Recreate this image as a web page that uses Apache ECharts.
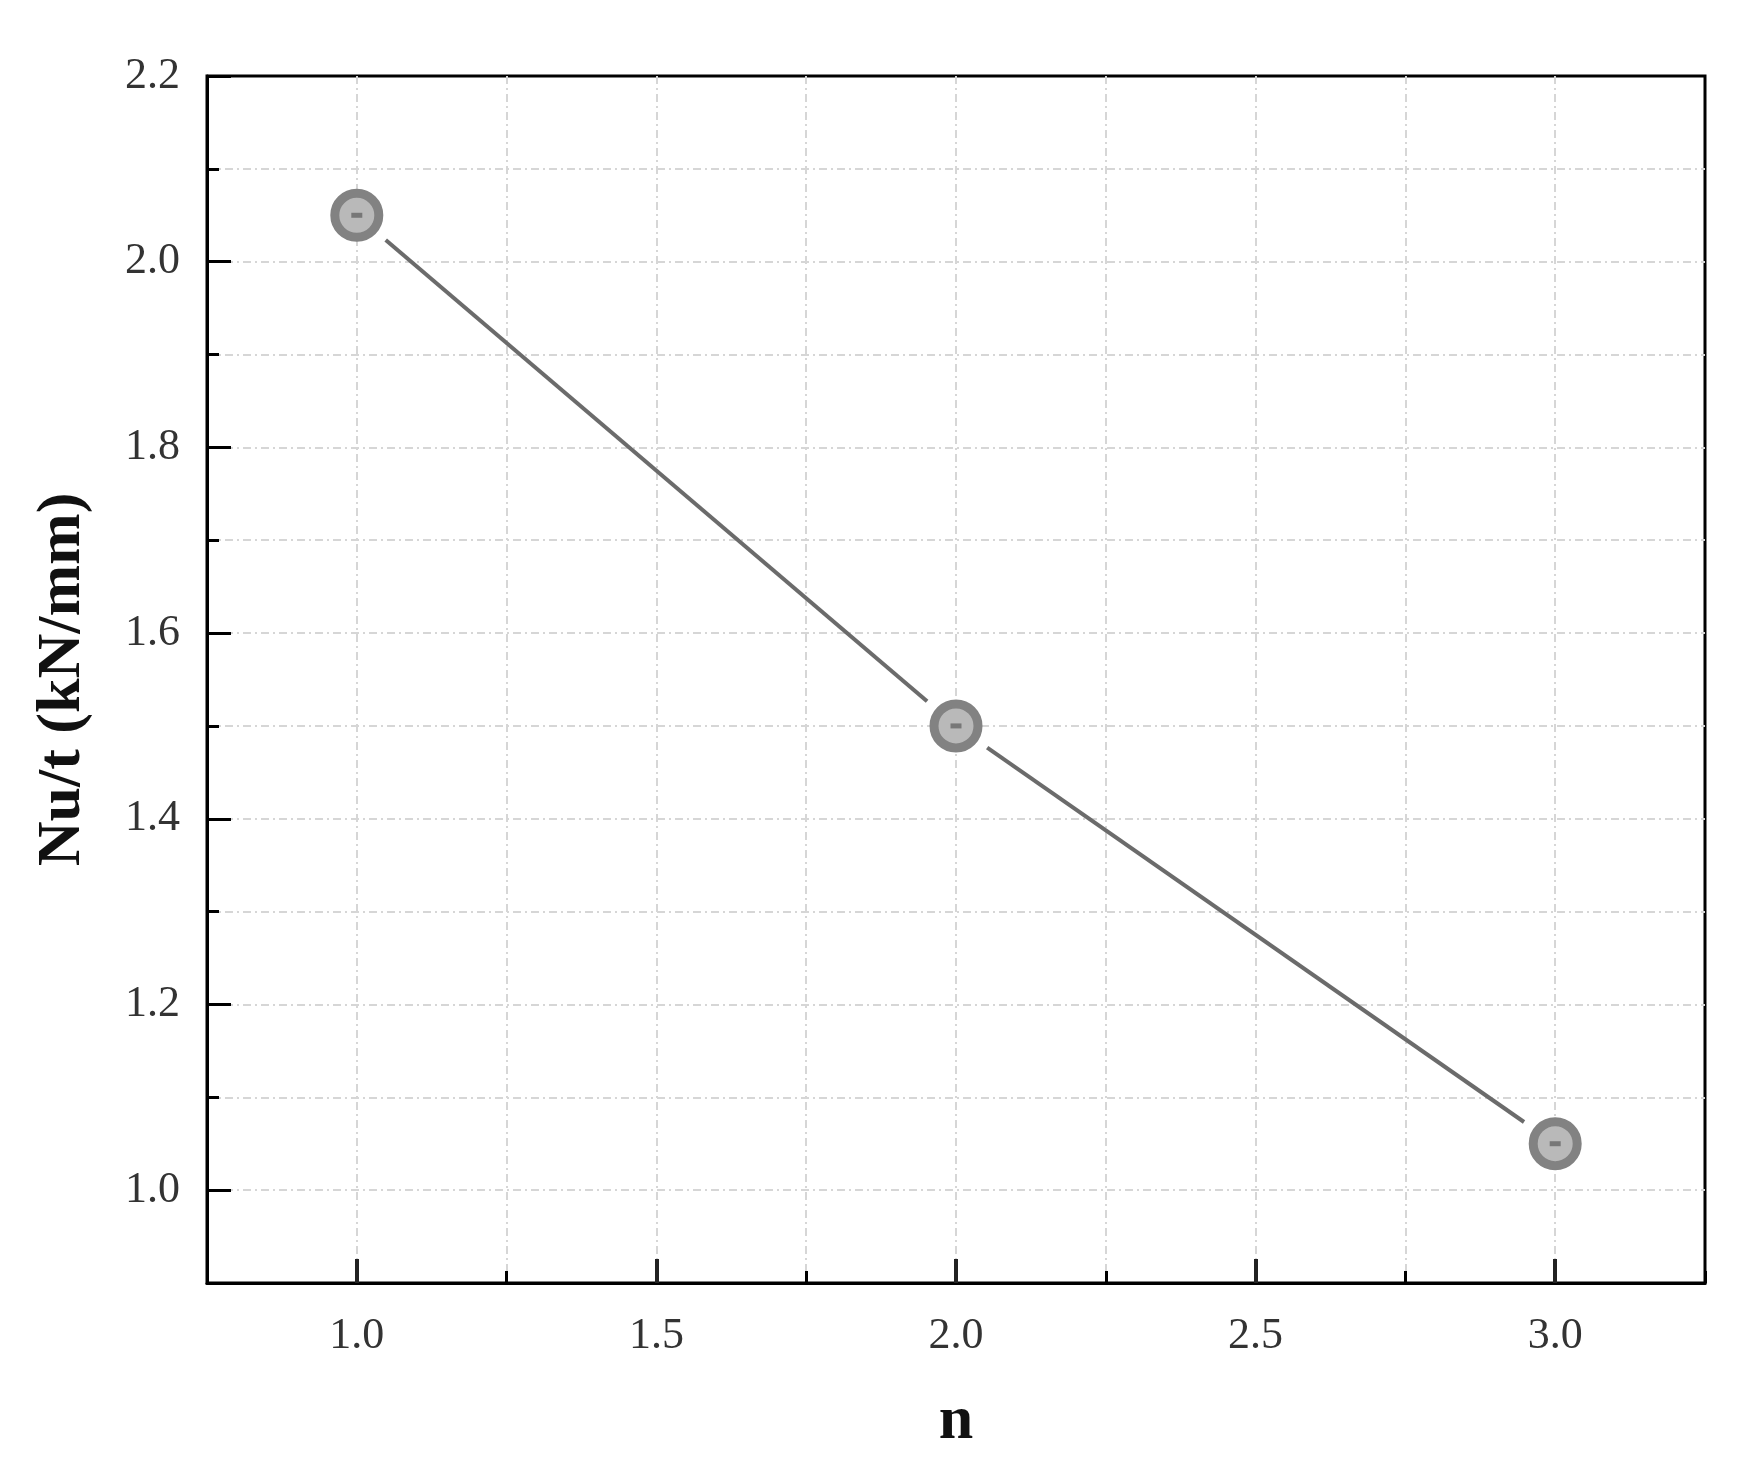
<!DOCTYPE html>
<html>
<head>
<meta charset="utf-8">
<script src="https://cdn.jsdelivr.net/npm/echarts@6/dist/echarts.min.js"></script>
<style>
  html, body { margin: 0; padding: 0; background: #ffffff; }
  #chart { width: 1750px; height: 1460px; }
</style>
</head>
<body>
<div id="chart"></div>
<script>
// data
var nValues = [1.0, 2.0, 3.0];
var nuT = [2.05, 1.50, 1.05];
var xTickLabels = [1.0, 1.5, 2.0, 2.5, 3.0];
var yTickLabels = [1.0, 1.2, 1.4, 1.6, 1.8, 2.0, 2.2];

var points = nValues.map(function (x, i) { return [x, nuT[i]]; });

var labelFont = {
  fontFamily: 'Liberation Serif',
  fontSize: 44,
  color: '#333333'
};
var nameFont = {
  fontFamily: 'Liberation Serif',
  fontWeight: 'bold',
  fontSize: 62,
  color: '#111111'
};
var gridLine = {
  show: true, showMinLine: false, showMaxLine: false,
  lineStyle: { color: '#d6d6d6', width: 2, type: [8, 4, 2, 4] }
};

function isIn(list, v) {
  return list.some(function (t) { return Math.abs(t - v) < 1e-6; });
}

var chart = echarts.init(document.getElementById('chart'));
chart.setOption({
  backgroundColor: '#ffffff',
  animation: false,
  grid: {
    left: 207, right: 45, top: 76, bottom: 177,
    show: true, borderColor: '#000000', borderWidth: 3
  },
  xAxis: [{
    type: 'value', min: 0.75, max: 3.25, interval: 0.25,
    name: 'n', nameLocation: 'middle', nameGap: 108, nameTextStyle: nameFont,
    axisLine: { show: true, lineStyle: { color: '#000', width: 3 } },
    axisTick: { show: true, inside: true, length: 12, lineStyle: { color: '#000', width: 3 } },
    axisLabel: Object.assign({
      margin: 31,
      formatter: function (v) { return isIn(xTickLabels, v) ? v.toFixed(1) : ''; }
    }, labelFont),
    splitLine: gridLine
  }, {
    // long ticks at the labelled values
    type: 'value', min: 0.75, max: 3.25, position: 'bottom',
    axisLine: { show: false },
    axisTick: { show: true, inside: true, length: 24, customValues: xTickLabels, lineStyle: { color: '#222', width: 4 } },
    axisLabel: { show: false },
    splitLine: { show: false }
  }],
  yAxis: [{
    type: 'value', min: 0.9, max: 2.2, interval: 0.1,
    name: 'Nu/t (kN/mm)', nameLocation: 'middle', nameGap: 113, nameTextStyle: nameFont,
    axisLine: { show: true, lineStyle: { color: '#000', width: 3 } },
    axisTick: { show: true, inside: true, length: 12, lineStyle: { color: '#000', width: 3 } },
    axisLabel: Object.assign({
      margin: 27,
      formatter: function (v) { return isIn(yTickLabels, v) ? v.toFixed(1) : ''; }
    }, labelFont),
    splitLine: gridLine
  }, {
    type: 'value', min: 0.9, max: 2.2, position: 'left',
    axisLine: { show: false },
    axisTick: { show: true, inside: true, length: 24, customValues: yTickLabels, lineStyle: { color: '#000', width: 3 } },
    axisLabel: { show: false },
    splitLine: { show: false }
  }],
  series: [
    {
      // connecting segments, stopped short of the markers
      type: 'custom',
      coordinateSystem: 'cartesian2d',
      data: points.slice(0, -1),
      encode: { x: 0, y: 1 },
      clip: false,
      z: 2,
      renderItem: function (params, api) {
        var i = params.dataIndex;
        var p0 = api.coord(points[i]);
        var p1 = api.coord(points[i + 1]);
        var dx = p1[0] - p0[0], dy = p1[1] - p0[1];
        var len = Math.sqrt(dx * dx + dy * dy);
        var gap = 38;
        var ux = dx / len, uy = dy / len;
        return {
          type: 'line',
          shape: {
            x1: p0[0] + ux * gap, y1: p0[1] + uy * gap,
            x2: p1[0] - ux * gap, y2: p1[1] - uy * gap
          },
          style: { stroke: '#6b6b6b', lineWidth: 4 }
        };
      }
    },
    {
      type: 'scatter',
      data: points,
      symbol: 'circle',
      symbolSize: 44,
      z: 3,
      itemStyle: { color: '#b9b9b9', borderColor: '#828282', borderWidth: 9, opacity: 1 }
    },
    {
      type: 'scatter',
      data: points,
      symbol: 'rect',
      symbolSize: [11, 5],
      z: 4,
      itemStyle: { color: '#777777', opacity: 1 }
    }
  ]
});
</script>
</body>
</html>
